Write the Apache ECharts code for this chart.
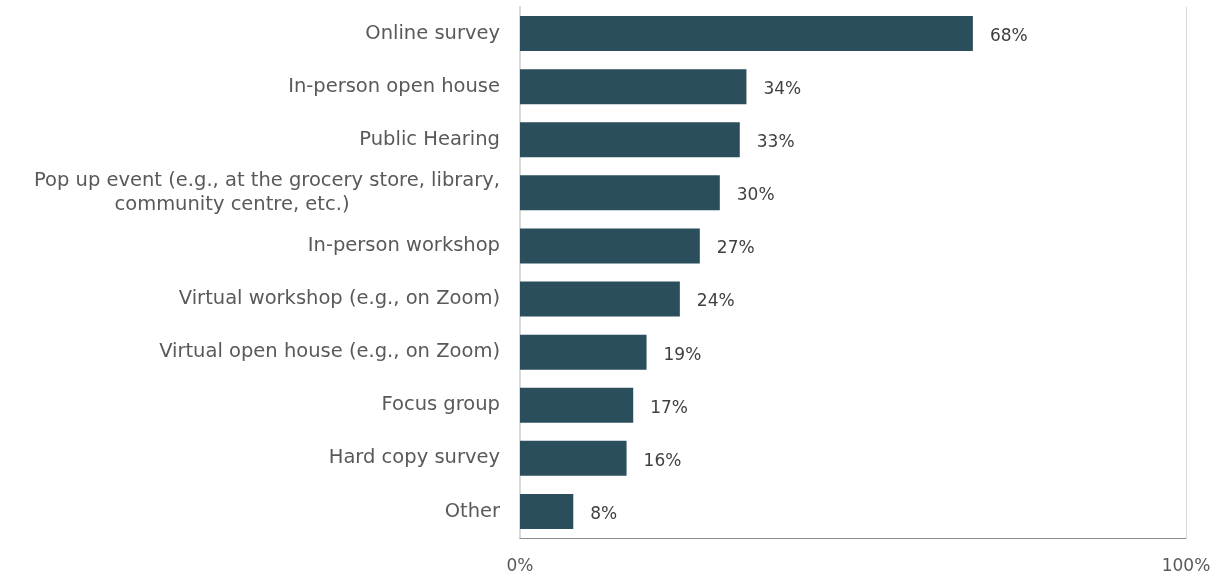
<!DOCTYPE html>
<html>
<head>
<meta charset="utf-8">
<script src="https://cdn.jsdelivr.net/npm/echarts@6/dist/echarts.min.js"></script>
<style>
  html, body { margin: 0; padding: 0; background: #ffffff; }
  #chart { width: 1220px; height: 577px; }
</style>
</head>
<body>
<div id="chart"></div>
<script>
// Engagement formats, listed top to bottom
const categories = [
  'Online survey',
  'In-person open house',
  'Public Hearing',
  'Pop up event (e.g., at the grocery store, library,\ncommunity centre, etc.)',
  'In-person workshop',
  'Virtual workshop (e.g., on Zoom)',
  'Virtual open house (e.g., on Zoom)',
  'Focus group',
  'Hard copy survey',
  'Other'
];
// Share of respondents (%)
const values = [68, 34, 33, 30, 27, 24, 19, 17, 16, 8];
const xTicks = [0, 100];

const font = '"DejaVu Sans", sans-serif';
const catColor = '#595959';
const valColor = '#404040';
const catSize = 19.5;

const chart = echarts.init(document.getElementById('chart'));
chart.setOption({
  animation: false,
  grid: { left: 520, right: 34, top: 7, bottom: 39, containLabel: false, outerBoundsMode: 'none' },
  xAxis: {
    type: 'value',
    min: xTicks[0],
    max: xTicks[xTicks.length - 1],
    interval: 100,
    axisLine: { show: true, lineStyle: { color: '#8c8c8c', width: 1 } },
    axisTick: { show: false },
    splitLine: { show: true, lineStyle: { color: '#d9d9d9', width: 1 } },
    axisLabel: {
      margin: 20,
      color: catColor,
      fontFamily: font,
      fontSize: 17,
      formatter: v => v + '%'
    }
  },
  yAxis: {
    type: 'category',
    inverse: true,
    data: categories,
    axisLine: { show: true, lineStyle: { color: '#d9d9d9', width: 2 } },
    axisTick: { show: false },
    axisLabel: {
      margin: 20,
      color: catColor,
      fontFamily: font,
      fontSize: catSize,
      lineHeight: 24,
      // second line of the wrapped label is centred under the first
      formatter: v => {
        if (v.indexOf('\n') < 0) return v;
        const parts = v.split('\n');
        return '{a|' + parts[0] + '}\n{b|' + parts[1] + '}';
      },
      rich: {
        a: { color: catColor, fontFamily: font, fontSize: catSize, lineHeight: 24 },
        b: { width: 536, align: 'center', color: catColor, fontFamily: font, fontSize: catSize, lineHeight: 24 }
      }
    }
  },
  series: [{
    type: 'bar',
    data: values,
    barWidth: 35,
    itemStyle: { color: '#2a4e5b' },
    label: {
      show: true,
      position: 'right',
      distance: 17,
      offset: [0, 3],
      color: valColor,
      fontFamily: font,
      fontSize: 17,
      formatter: p => p.value + '%'
    }
  }]
});
</script>
</body>
</html>
